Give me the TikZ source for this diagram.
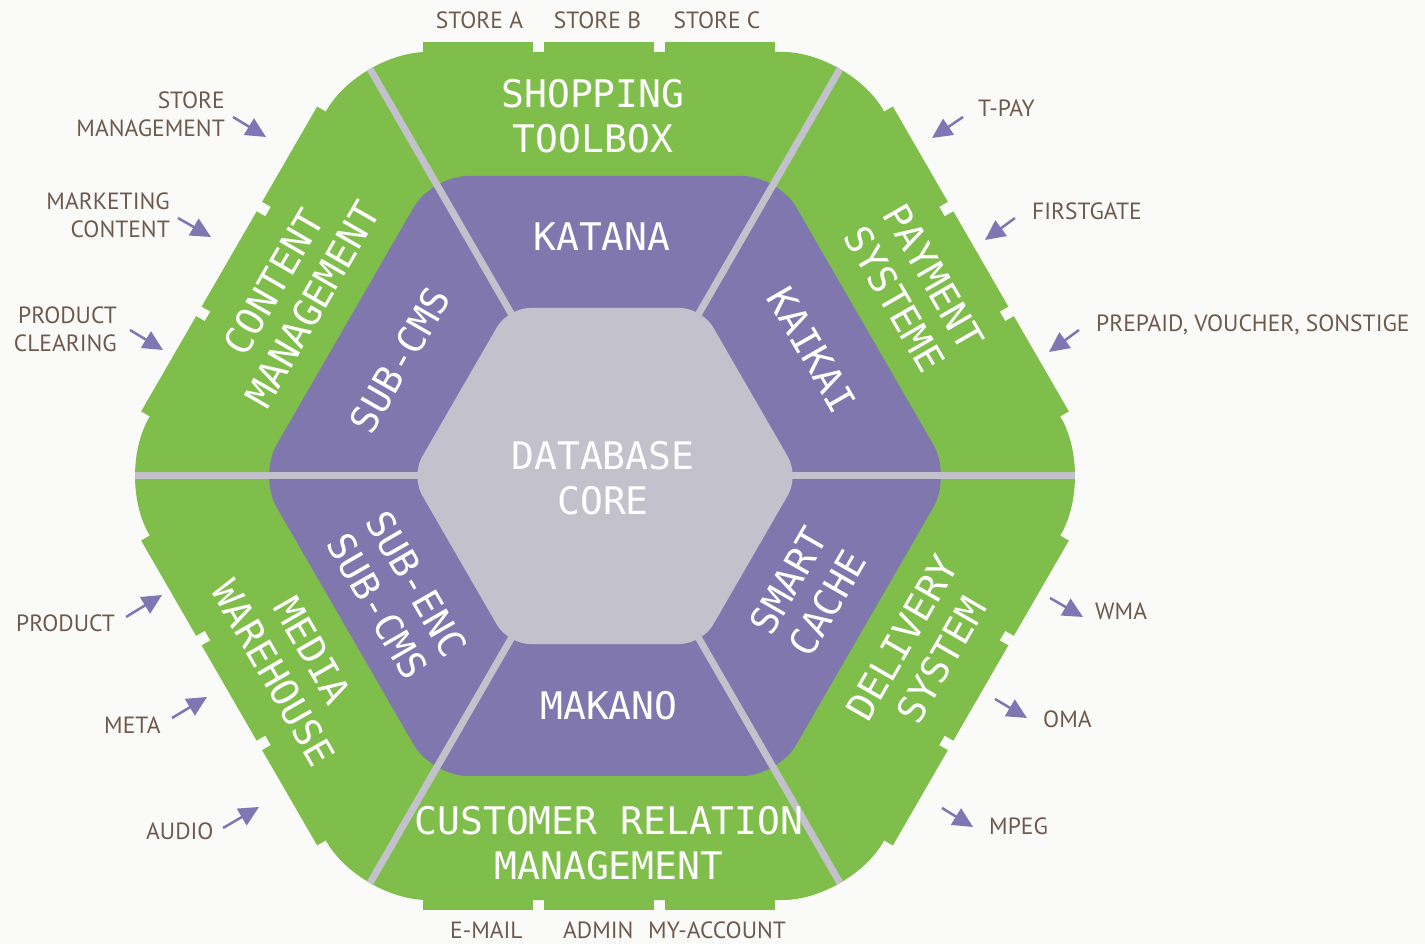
\documentclass[tikz,border=0pt]{standalone}
\usepackage{fontspec}
\usetikzlibrary{arrows.meta}
\newfontfamily\wfont{DejaVu Sans Mono}
\newfontfamily\bfont{PT Sans}
\definecolor{bgc}{HTML}{FAFAF8}
\definecolor{grn}{HTML}{80BE4B}
\definecolor{pur}{HTML}{7F77AE}
\definecolor{cor}{HTML}{C3C2CC}
\definecolor{brn}{HTML}{6E5A4C}
\definecolor{arc}{HTML}{7F77B3}
\tikzset{
 wlab/.style={text=white, font=\wfont\fontsize{38}{45}\selectfont, align=center, inner sep=0pt},
 blab/.style={text=brn, font=\bfont\fontsize{23.5}{28}\selectfont, inner sep=0pt},
 arr/.style={draw=arc, line width=2.5pt, -{Triangle[length=20pt,width=19pt]}},
 divider/.style={draw=cor, line width=7pt},
}
\begin{document}
\begin{tikzpicture}[x=1pt,y=1pt]
\fill[bgc] (0,0) rectangle (1425,944);
\useasboundingbox (0,0) rectangle (1425,944);
\begin{scope}[shift={(605,468)}]
 % green ring
 \fill[grn, rounded corners=67pt] (90:424) -- (120:489.6) -- (180:489.6) -- (240:489.6) -- (300:489.6) -- (0:489.6) -- (60:489.6) -- cycle;
 \foreach \k/\s in {0/-6,1/0,2/0,3/6,4/0,5/0}{
   \begin{scope}[rotate=60*\k, xshift=\s]
     \fill[grn] (-176,418) rectangle (-66,434);
     \fill[grn] (-55,418) rectangle (55,434);
     \fill[grn] (66,418) rectangle (176,434);
   \end{scope}
 }
 % purple ring
 \fill[pur, rounded corners=36pt] (90:300) -- (120:346.4) -- (180:346.4) -- (240:346.4) -- (300:346.4) -- (0:346.4) -- (60:346.4) -- cycle;
 % dividers
 \foreach \a in {0,60,120,180,240,300} \draw[divider] (0,0) -- (\a:470);
 % core
 \fill[cor, rounded corners=22pt] (90:168) -- (120:194) -- (180:194) -- (240:194) -- (300:194) -- (0:194) -- (60:194) -- cycle;
\end{scope}

% white labels
\node[wlab] (shop) at (593,828) {SHOPPING\\TOOLBOX};
\node[wlab] (katana) at (602,707) {KATANA};
\node[wlab] (core) at (603,466) {DATABASE\\CORE};
\node[wlab] (makano) at (609,238) {MAKANO};
\node[wlab] (crm) at (609,100.5) {CUSTOMER RELATION\\MANAGEMENT};
\node[wlab, rotate=60] (cms) at (293,651) {CONTENT\\MANAGEMENT};
\node[wlab, rotate=60] (subcms) at (400,584) {SUB-CMS};
\node[wlab, rotate=-60] (pay) at (914,656) {PAYMENT\\SYSTEME};
\node[wlab, rotate=-60] (kaikai) at (812,594) {KAIKAI};
\node[wlab, rotate=60] (cache) at (808,352) {SMART\\CACHE};
\node[wlab, rotate=60] (deliv) at (922,295) {DELIVERY\\SYSTEM};
\node[wlab, rotate=-60] (subenc) at (397,349) {SUB-ENC\\SUB-CMS};
\node[wlab, rotate=-60] (media) at (293,282) {MEDIA\\WAREHOUSE};

% brown labels
\node[blab, anchor=base] (sta) at (479.5,915.5) {STORE A};
\node[blab, anchor=base] (stb) at (597.5,915.5) {STORE B};
\node[blab, anchor=base] (stc) at (717,915.5) {STORE C};
\node[blab, anchor=north east, align=right] (stm) at (225,852) {STORE\\MANAGEMENT};
\node[blab, anchor=north east, align=right] (mkc) at (170,751) {MARKETING\\CONTENT};
\node[blab, anchor=north east, align=right] (prc) at (117,637) {PRODUCT\\CLEARING};
\node[blab, anchor=base west] (tpay) at (978,827) {T-PAY};
\node[blab, anchor=base west] (fg) at (1032,724) {FIRSTGATE};
\node[blab, anchor=base west] (pp) at (1096,612) {PREPAID, VOUCHER, SONSTIGE};
\node[blab, anchor=base west] (prod) at (16,312) {PRODUCT};
\node[blab, anchor=base west] (meta) at (104,210) {META};
\node[blab, anchor=base west] (audio) at (146,104) {AUDIO};
\node[blab, anchor=base west] (wma) at (1095,324) {WMA};
\node[blab, anchor=base west] (oma) at (1043,216) {OMA};
\node[blab, anchor=base west] (mpeg) at (989,109) {MPEG};
\node[blab, anchor=base west] (email) at (450,5.5) {E-MAIL};
\node[blab, anchor=base west] (admin) at (563,5.5) {ADMIN};
\node[blab, anchor=base west] (myacc) at (648,5.5) {MY-ACCOUNT};

% arrows
\coordinate (a1s) at (233,827); \coordinate (a1e) at (266,807);
\coordinate (a2s) at (178,726); \coordinate (a2e) at (211,707);
\coordinate (a3s) at (130,614); \coordinate (a3e) at (163,594);
\coordinate (a4s) at (963,827); \coordinate (a4e) at (932,806);
\coordinate (a5s) at (1015,726); \coordinate (a5e) at (985,704);
\coordinate (a6s) at (1079,614); \coordinate (a6e) at (1049,592);
\coordinate (a7s) at (126,327); \coordinate (a7e) at (162,349);
\coordinate (a8s) at (172,226); \coordinate (a8e) at (207,247);
\coordinate (a9s) at (223,116); \coordinate (a9e) at (259,137);
\coordinate (a10s) at (1050,346); \coordinate (a10e) at (1083,327);
\coordinate (a11s) at (995,245); \coordinate (a11e) at (1027,226);
\coordinate (a12s) at (942,136); \coordinate (a12e) at (973,117);
\foreach \i in {1,...,12} \draw[arr] (a\i s) -- (a\i e);
\end{tikzpicture}
\end{document}
